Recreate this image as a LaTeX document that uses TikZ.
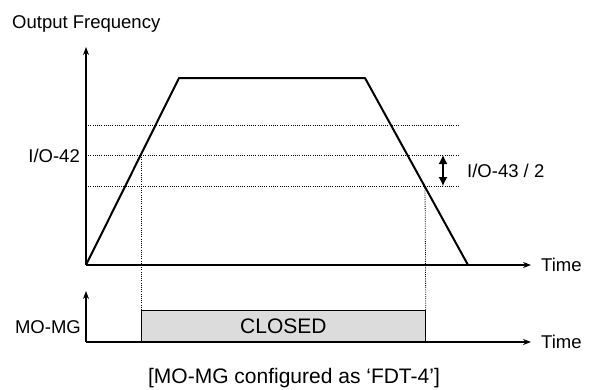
\documentclass[tikz,border=0pt]{standalone}
\usepackage{fontspec}
\setmainfont{Liberation Sans}
\usetikzlibrary{arrows.meta}
\definecolor{boxgray}{HTML}{DCDCDC}

\begin{document}
\begin{tikzpicture}[x=1pt,y=-1pt,
  axis/.style={line width=1.2pt,-{Stealth[length=8pt,width=6pt]}},
  curve/.style={line width=2pt,line join=round},
  guide/.style={line width=0.8pt,dash pattern=on 1pt off 1.2pt},
  lbl/.style={font=\fontsize{18.5}{20}\selectfont,inner sep=0pt},
  big/.style={font=\fontsize{21}{24}\selectfont,inner sep=0pt}]
\useasboundingbox (0,0) rectangle (598,389);

% Frequency axes
\coordinate (O) at (86,265);
\coordinate (ytop) at (86,47);
\coordinate (xend) at (531,265);
\draw[axis] (O) -- (ytop);
\draw[axis] (O) -- (xend);
\node[lbl,anchor=base west] (freq) at (12,28) {Output Frequency};
\node[lbl,anchor=base west] (time1) at (541,271) {Time};

% Levels (dotted)
\foreach \y/\n in {125/hi,155/mid,186/lo}
    \draw[guide] (86,\y) coordinate (\n L) -- (459,\y) coordinate (\n R);
\node[lbl,anchor=base east] (lvl) at (80,162) {I/O-42};

% Speed profile
\coordinate (acc) at (179,78);
\coordinate (dec) at (365,78);
\coordinate (stop) at (468,265);
\draw[curve] (O) -- (acc) -- (dec) -- (stop);

% Hysteresis band
\coordinate (bandT) at (443,155);
\coordinate (bandB) at (443,186);
\draw[line width=1.2pt,{Latex[length=9pt,width=9pt]}-{Latex[length=9pt,width=9pt]}] (bandT) -- (bandB);
\node[lbl,anchor=base west] (band) at (467,177) {I/O-43 / 2};

% Output relay axes
\coordinate (O2) at (86,342);
\coordinate (ytop2) at (86,291);
\coordinate (xend2) at (531,342);
\draw[axis] (O2) -- (ytop2);
\draw[axis] (O2) -- (xend2);
\node[lbl,anchor=base west] (time2) at (541,348) {Time};
\node[lbl,anchor=base east] (relay) at (81,333) {MO-MG};

% Closed contact
\node[draw,line width=0.8pt,fill=boxgray,minimum width=284pt,minimum height=31pt,
      inner sep=0pt,anchor=south west] (closed) at (141,342) {};
\node[big,anchor=base] at ([yshift=-7.5pt]closed.center) {CLOSED};

% Switching instants
\coordinate (on) at (141,155);
\coordinate (off) at (425,186);
\draw[guide] (on) -- (closed.north west);
\draw[guide] (off) -- (closed.north east);

\node[big,anchor=base] (cap) at (294,383) {[MO-MG configured as ‘FDT-4’]};
\end{tikzpicture}
\end{document}
